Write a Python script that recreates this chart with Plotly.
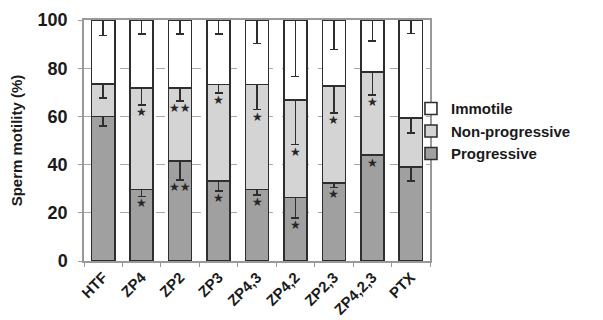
import plotly.graph_objects as go

categories = ["HTF", "ZP4", "ZP2", "ZP3", "ZP4,3", "ZP4,2", "ZP2,3", "ZP4,2,3", "PTX"]
progressive = [60.0, 29.6, 41.6, 33.1, 29.6, 26.4, 32.4, 44.1, 38.9]
total_motile = [73.4, 71.8, 71.8, 73.3, 73.3, 66.7, 72.5, 78.4, 59.3]
non_progressive = [t - p for t, p in zip(total_motile, progressive)]
immotile = [100 - t for t in total_motile]
err_progressive = [4.0, 2.8, 8.0, 4.0, 2.3, 8.6, 1.8, 0.4, 5.8]
err_nonprog = [5.7, 7.0, 5.5, 3.6, 10.5, 18.4, 11.0, 9.6, 6.2]
err_immotile = [6.5, 5.8, 5.8, 5.8, 9.8, 23.4, 12.3, 8.8, 5.7]
stars_progressive = ["", "★", "★★", "★", "★", "★", "★", "★", ""]
stars_nonprog = ["", "★", "★★", "★", "★", "★", "★", "★", ""]

edge = "#2e2e2e"
errstyle = dict(type="data", symmetric=False, thickness=1.5, width=4, color=edge)

fig = go.Figure()
fig.add_trace(go.Bar(x=categories, y=progressive, name="Progressive",
                     marker=dict(color="#a0a0a0", line=dict(color=edge, width=1.6)),
                     error_y=dict(array=[0]*9, arrayminus=err_progressive, **errstyle)))
fig.add_trace(go.Bar(x=categories, y=non_progressive, name="Non-progressive",
                     marker=dict(color="#d4d4d4", line=dict(color=edge, width=1.6)),
                     error_y=dict(array=[0]*9, arrayminus=err_nonprog, **errstyle)))
fig.add_trace(go.Bar(x=categories, y=immotile, name="Immotile",
                     marker=dict(color="#ffffff", line=dict(color=edge, width=1.6)),
                     error_y=dict(array=[0]*9, arrayminus=err_immotile, **errstyle)))

starfont = dict(family="DejaVu Sans", size=12, color="#262626")
for c, p, e, s in zip(categories, progressive, err_progressive, stars_progressive):
    if s:
        fig.add_annotation(x=c, y=p - e, text=s, showarrow=False, yanchor="top",
                           yshift=2, font=starfont)
for c, t, e, s in zip(categories, total_motile, err_nonprog, stars_nonprog):
    if s:
        fig.add_annotation(x=c, y=t - e, text=s, showarrow=False, yanchor="top",
                           yshift=2, font=starfont)

fig.update_layout(
    barmode="stack",
    bargap=0.4,
    width=603, height=320,
    margin=dict(l=76, r=181, t=12, b=67, autoexpand=False),
    plot_bgcolor="white", paper_bgcolor="white",
    font=dict(family="Liberation Sans", color="#1a1a1a"),
    showlegend=True,
    legend=dict(x=0.945, y=0.70, xanchor="left", yanchor="top", traceorder="reversed",
                font=dict(size=15, weight="bold", color="#1a1a1a"),
                itemwidth=30, tracegroupgap=0, bgcolor="rgba(0,0,0,0)"),
    xaxis=dict(showline=True, linecolor="#999", linewidth=1.5, mirror=True,
               ticks="outside", ticklen=4, tickcolor="#999", tickson="boundaries",
               tickangle=-45, automargin=False,
               tickfont=dict(size=15, weight="bold", color="#1a1a1a")),
    yaxis=dict(range=[0, 100], tickvals=[0, 20, 40, 60, 80, 100],
               showline=True, linecolor="#999", linewidth=1.5, mirror=True,
               ticks="outside", ticklen=4, tickcolor="#999", ticklabelstandoff=7,
               showgrid=True, gridcolor="#aaa", griddash="dash", gridwidth=1,
               zeroline=False, automargin=False,
               tickfont=dict(size=18, weight="bold", color="#1a1a1a")),
)
fig.update_yaxes(title=dict(text="Sperm motility (%)", standoff=14,
                            font=dict(size=15, weight="bold", color="#1a1a1a")))

fig.write_html("out.html")
